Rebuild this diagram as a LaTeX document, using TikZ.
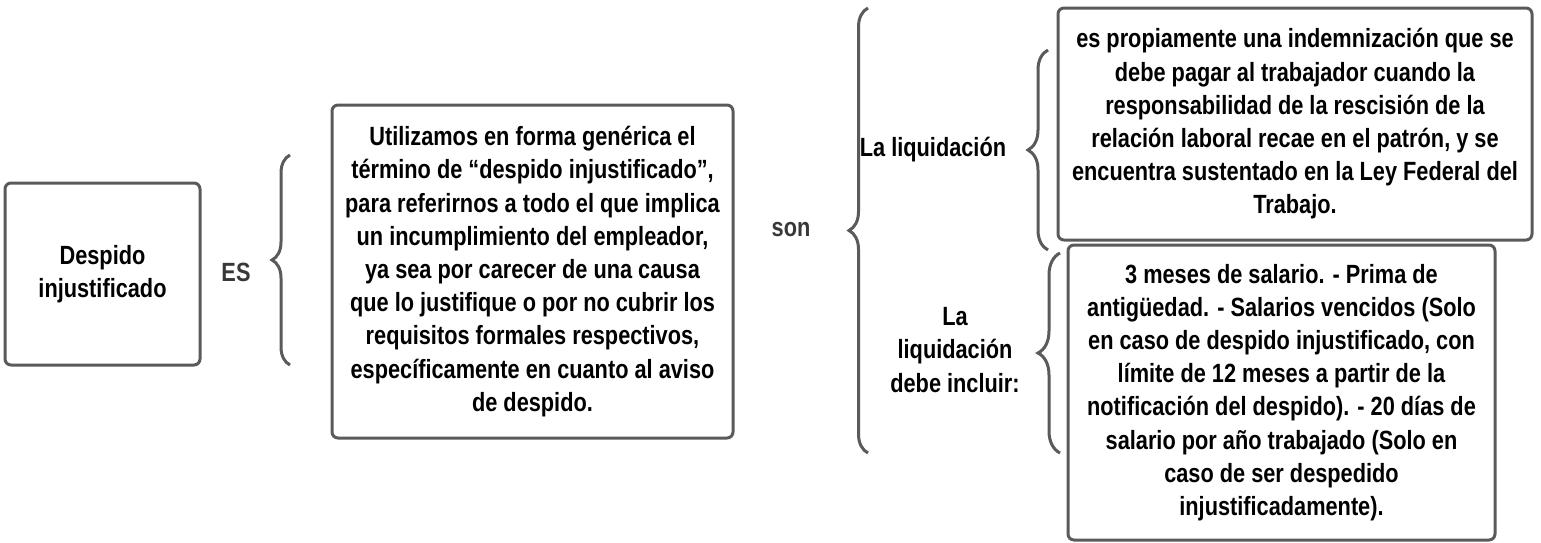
\documentclass[tikz,border=0pt]{standalone}
\usepackage{fontspec}
\setmainfont{Liberation Sans}[FakeStretch=0.825]
\usetikzlibrary{decorations.pathreplacing}
\definecolor{borde}{HTML}{5A5A5A}
\definecolor{gristexto}{HTML}{383838}

\begin{document}
\begin{tikzpicture}[
		caja/.style={draw=borde, line width=0.06cm, rounded corners=0.12cm, align=center,
			font=\bfseries\fontsize{15}{18.9}\selectfont, inner sep=0pt},
		etiqueta/.style={align=center, font=\bfseries\fontsize{15}{18.9}\selectfont},
		llave/.style={draw=borde, line width=0.06cm, decorate,
			decoration={brace, amplitude=#1}},
	]
		\useasboundingbox (0,0) rectangle (30.82,10.84);

		\node[caja, minimum width=3.9cm, minimum height=3.64cm] (despido) at (2.05,5.36)
			{Despido\\injustificado};
		\node[etiqueta, text=gristexto] (es) at (4.72,5.4) {ES};

		\node[caja, minimum width=8.02cm, minimum height=6.66cm] (definicion) at (10.65,5.41)
			{Utilizamos en forma genérica el\\
			término de “despido injustificado”,\\
			para referirnos a todo el que implica\\
			un incumplimiento del empleador,\\
			ya sea por carecer de una causa\\
			que lo justifique o por no cubrir los\\
			requisitos formales respectivos,\\
			específicamente en cuanto al aviso\\
			de despido.};

		\node[etiqueta, text=gristexto] (son) at (15.82,6.24) {son};
		\node[etiqueta] (liq) at (18.66,7.84) {La liquidación};
		\node[etiqueta] (liqincluye) at (19.1,3.84) {La\\liquidación\\debe incluir:};

		\node[caja, minimum width=9.48cm, minimum height=4.64cm] (indemn) at (25.9,8.36)
			{es propiamente una indemnización que se\\
			debe pagar al trabajador cuando la\\
			responsabilidad de la rescisión de la\\
			relación laboral recae en el patrón, y se\\
			encuentra sustentado en la Ley Federal del\\
			Trabajo.};

		\node[caja, minimum width=8.54cm, minimum height=5.9cm] (conceptos) at (25.63,2.99)
			{3 meses de salario. - Prima de\\
			antigüedad. - Salarios vencidos (Solo\\
			en caso de despido injustificado, con\\
			límite de 12 meses a partir de la\\
			notificación del despido). - 20 días de\\
			salario por año trabajado (Solo en\\
			caso de ser despedido\\
			injustificadamente).};

		% llaves
		\coordinate (llaveEsA) at (5.8,3.54);
		\coordinate (llaveEsB) at (5.8,7.74);
		\coordinate (llaveSonA) at (17.36,1.78);
		\coordinate (llaveSonB) at (17.36,10.68);
		\coordinate (llaveLiqA) at (20.96,5.84);
		\coordinate (llaveLiqB) at (20.96,9.84);
		\coordinate (llaveIncA) at (21.2,1.78);
		\coordinate (llaveIncB) at (21.2,5.78);

		\draw[llave=0.36cm] (llaveEsA) -- (llaveEsB);
		\draw[llave=0.38cm] (llaveSonA) -- (llaveSonB);
		\draw[llave=0.4cm] (llaveLiqA) -- (llaveLiqB);
		\draw[llave=0.44cm] (llaveIncA) -- (llaveIncB);
	\end{tikzpicture}
\end{document}
